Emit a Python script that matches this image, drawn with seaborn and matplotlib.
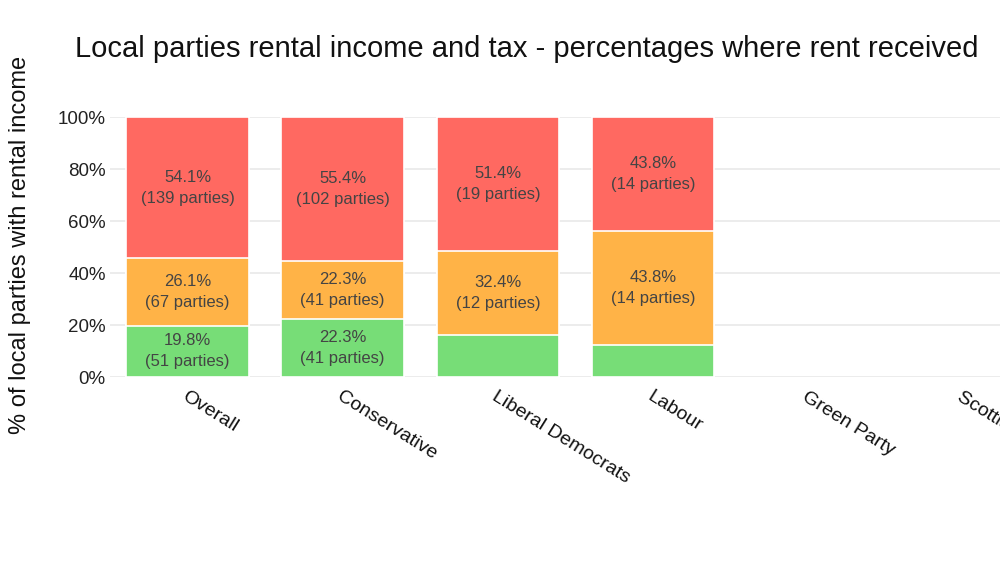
import matplotlib
matplotlib.use("Agg")
import matplotlib.pyplot as plt
import seaborn as sns
import numpy as np
import pandas as pd

categories = ["Overall", "Conservative", "Liberal Democrats", "Labour", "Green Party", "Scottish National Party"]
green_pct = [19.8, 22.3, 16.2, 12.5, np.nan, np.nan]
orange_pct = [26.1, 22.3, 32.4, 43.8, np.nan, np.nan]
red_pct = [54.1, 55.4, 51.4, 43.8, np.nan, np.nan]
green_n = [51, 41, 6, 4, None, None]
orange_n = [67, 41, 12, 14, None, None]
red_n = [139, 102, 19, 14, None, None]
show_green_label = [True, True, False, False, False, False]
y_ticks = [0, 20, 40, 60, 80, 100]
y_ticklabels = ["0%", "20%", "40%", "60%", "80%", "100%"]

RED = "#FF6961"
ORANGE = "#FFB347"
GREEN = "#77DD77"

sns.set_theme(style="white")
plt.rcParams["font.family"] = ["Liberation Sans", "DejaVu Sans"]

df = pd.DataFrame({
    "party": categories,
    "green": green_pct,
    "orange": orange_pct,
    "red": red_pct,
})
df["cum_orange"] = df["green"] + df["orange"]
df["cum_red"] = df["cum_orange"] + df["red"]

fig = plt.figure(figsize=(10, 5.63), dpi=100)
ax = fig.add_axes([0.11, 0.330, 0.931, 0.4618])

for ycol, col in [("cum_red", RED), ("cum_orange", ORANGE), ("green", GREEN)]:
    sns.barplot(data=df, x="party", y=ycol, order=categories, color=col,
                saturation=1, width=0.79, edgecolor="white", linewidth=1.2,
                ax=ax, zorder=3, errorbar=None)

ax.set_ylim(0, 100)
ax.set_xlim(-0.5, len(categories) - 0.5)
ax.set_yticks(y_ticks)
ax.set_yticklabels(y_ticklabels, fontsize=13.5, color="#222222")
ax.yaxis.grid(True, color="#EBEBEB", linewidth=1.3, zorder=0)
ax.xaxis.grid(False)
for s in ax.spines.values():
    s.set_visible(False)
ax.tick_params(axis="y", length=0, pad=3)
ax.tick_params(axis="x", length=0, pad=8)
ax.set_xlabel("")
ax.set_ylabel("")
ax.set_xticks(range(len(categories)))
ax.set_xticklabels(categories, rotation=-32, ha="left", va="top",
                   rotation_mode="anchor", fontsize=14, color="#111111")

txt_kw = dict(ha="center", va="center", fontsize=12, color="#444444",
              linespacing=1.5, zorder=5)
for i in range(len(categories)):
    if np.isnan(red_pct[i]):
        continue
    g, o, r = green_pct[i], orange_pct[i], red_pct[i]
    ax.text(i, g + o + r / 2, f"{r:.1f}%\n({red_n[i]} parties)", **txt_kw)
    ax.text(i, g + o / 2, f"{o:.1f}%\n({orange_n[i]} parties)", **txt_kw)
    if show_green_label[i]:
        ax.text(i, g / 2, f"{g:.1f}%\n({green_n[i]} parties)", **txt_kw)

fig.text(0.5265, 0.913, "Local parties rental income and tax - percentages where rent received",
         ha="center", va="center", fontsize=21, color="#111111")
fig.text(0.02, 0.565, "% of local parties with rental income", rotation=90,
         ha="center", va="center", fontsize=17, color="#111111")

fig.savefig("out.png", dpi=100, facecolor="white")
